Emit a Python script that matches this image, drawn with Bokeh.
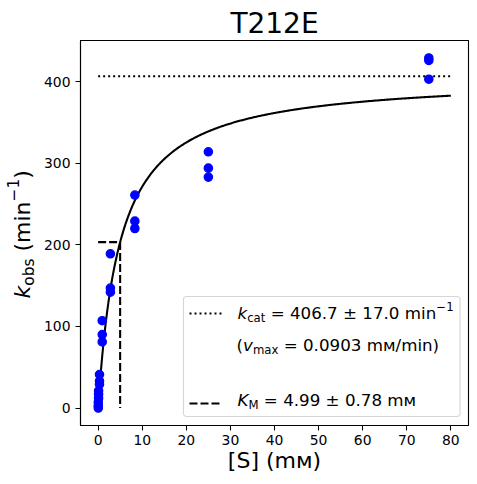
import numpy as np
from bokeh.plotting import figure
from bokeh.layouts import row
from bokeh.models import Range1d, FixedTicker, Label, BoxAnnotation, Arrow
from bokeh.embed import file_html
from bokeh.resources import INLINE

# ---------------- data ----------------
title_text = "T212E"
x_label = "[S] (mᴍ)"
conc_mM = [0.034, 0.103, 0.309, 0.926, 2.78, 8.33, 25.0, 75.0]
rep1 = [7, 21, 41, 107, 189, 261, 314, 429]
rep2 = [3, 17, 33, 90, 147, 229, 294, 426]
rep3 = [0, 12, 29, 81, 142, 220, 283, 403]
kcat = 406.7
kcat_err = 17.0
KM = 4.99
KM_err = 0.78
vmax = 0.0903
s_max = 80
x_ticks = [0, 10, 20, 30, 40, 50, 60, 70, 80]
y_ticks = [0, 100, 200, 300, 400]

xs = conc_mM * 3
ys = rep1 + rep2 + rep3

ymax = max(ys)
x_range = Range1d(-0.05 * s_max, s_max * 1.05)
y_range = Range1d(-0.05 * ymax, ymax * 1.05)

FONT = "DejaVu Sans"
W_LAB = 40          # width of the strip that carries the y label
H = 484
B_TOP, B_BOTTOM = 40, 59

# ---------------- text helpers ----------------
ADV = {' ': .318, '(': .390, ')': .390, '=': .838, '±': .838, '.': .318, '/': .337,
       'm': .974, 'i': .278, 'n': .634, 'a': .613, 'c': .550, 't': .392, 'x': .592,
       'o': .612, 'b': .635, 's': .521, 'M': .863, 'K': .656, 'k': .579, 'v': .592,
       '−': .838, 'ᴍ': .75}
BASE_CORR = 0.48     # empirical baseline correction (fraction of font size)


def width(txt, size):
    return sum(ADV.get(ch, .636) for ch in txt) * size


def rich(fig, x0, y0, pieces, vertical=False):
    """pieces: (text, size, italic, shift); leading spaces are advanced, not drawn"""
    pos = x0 if not vertical else y0
    for txt, size, italic, shift in pieces:
        stripped = txt.lstrip(" ")
        pos += width(txt[:len(txt) - len(stripped)], size)
        corr = BASE_CORR * size
        if vertical:
            lx, ly, ang = x0 - shift - corr, pos, np.pi / 2
        else:
            lx, ly, ang = pos, y0 + shift + corr, 0.0
        fig.add_layout(Label(x=lx, y=ly, x_units="screen", y_units="screen",
                             text=stripped, angle=ang, text_font=FONT,
                             text_font_size=f"{size}px",
                             text_font_style="italic" if italic else "normal",
                             text_color="black", text_align="left",
                             text_baseline="alphabetic"))
        pos += width(stripped, size)


# ---------------- main figure ----------------
p = figure(width=477 - W_LAB, height=H, x_range=x_range, y_range=y_range,
           output_backend="svg", toolbar_location=None,
           min_border_left=40, min_border_right=9,
           min_border_top=B_TOP, min_border_bottom=B_BOTTOM)
p.background_fill_color = "white"
p.border_fill_color = "white"
p.outline_line_color = "black"
p.outline_line_width = 1.1
p.outline_line_alpha = 1.0
p.grid.visible = False

p.title.text = title_text
p.title.align = "center"
p.title.text_font = FONT
p.title.text_font_size = "28px"
p.title.text_font_style = "normal"
p.title.text_color = "black"
p.title.standoff = 1

p.xaxis.ticker = FixedTicker(ticks=x_ticks)
p.yaxis.ticker = FixedTicker(ticks=y_ticks)
for ax in (p.xaxis, p.yaxis):
    ax.minor_tick_line_color = None
    ax.major_tick_in = 0
    ax.major_tick_out = 5
    ax.major_tick_line_width = 1.1
    ax.major_tick_line_color = "black"
    ax.axis_line_color = "black"
    ax.axis_line_width = 1.1
    ax.major_label_text_font = FONT
    ax.major_label_text_font_size = "13.9px"
    ax.major_label_text_color = "black"
p.xaxis.major_label_standoff = 4
p.yaxis.major_label_standoff = 5
p.xaxis.axis_label = x_label
p.xaxis.axis_label_text_font = FONT
p.xaxis.axis_label_text_font_size = "22px"
p.xaxis.axis_label_text_font_style = "normal"
p.xaxis.axis_label_text_color = "black"
p.xaxis.axis_label_standoff = 0

# fit curve (Michaelis-Menten with fitted parameters)
s = np.linspace(0, s_max, 400)
p.line(s, kcat * s / (KM + s), line_color="black", line_width=2.08)
p.line([0, s_max], [kcat, kcat], line_color="black", line_width=2.08, line_dash="2 3")
p.line([0, KM, KM], [kcat / 2, kcat / 2, 0], line_color="black", line_width=2.08,
       line_dash="8 3")
p.scatter(xs, ys, size=8.3, fill_color="blue", line_color="blue", line_width=1.3)

# ---------------- legend ----------------
p.add_layout(BoxAnnotation(left=103, right=379.5, bottom=9, top=129,
                           left_units="screen", right_units="screen",
                           top_units="screen", bottom_units="screen",
                           fill_color="white", fill_alpha=0.8,
                           line_color="#cccccc", line_alpha=0.8, line_width=1.1,
                           border_radius=3))
p.add_layout(Arrow(end=None, x_start=109, y_start=112, x_end=142, y_end=112,
                   start_units="screen", end_units="screen", line_color="black",
                   line_width=2.08, line_dash="2 3"))
p.add_layout(Arrow(end=None, x_start=109, y_start=22, x_end=142, y_end=22,
                   start_units="screen", end_units="screen", line_color="black",
                   line_width=2.08, line_dash="8 3"))

F, SF = 16.7, 11.7
rich(p, 157, 104, [("k", F, True, 0), ("cat", SF, False, -2),
                   (f" = {kcat:.1f} ± {kcat_err:.1f} min", F, False, 0),
                   ("−1", SF, False, 9.7)])
rich(p, 156, 72, [("(", F, False, 0), ("v", F, True, 0), ("max", SF, False, -2.5),
                  (f" = {vmax:.4f} mᴍ/min)", F, False, 0)])
rich(p, 157, 17, [("K", F, True, 0), ("M", SF, False, -2),
                  (f" = {KM:.2f} ± {KM_err:.2f} mᴍ", F, False, 0)])

# ---------------- y label strip (frame aligned with the main frame) ----------------
ylab = figure(width=W_LAB, height=H, x_range=Range1d(0, W_LAB), y_range=Range1d(0, 1),
              output_backend="svg", toolbar_location=None,
              x_axis_location=None, y_axis_location=None,
              min_border_left=0, min_border_right=0,
              min_border_top=B_TOP, min_border_bottom=B_BOTTOM)
ylab.outline_line_color = None
ylab.grid.visible = False
ylab.background_fill_color = "white"
ylab.border_fill_color = "white"
rich(ylab, 33, (H - B_BOTTOM) - 298, [("k", 22, True, 0), ("obs", 15.4, False, -2.6),
                                      (" (min", 22, False, 0), ("−1", 15.4, False, 12.8),
                                      (")", 22, False, 0)], vertical=True)

layout = row(ylab, p, spacing=0)
open("out.html", "w").write(file_html(layout, INLINE))
